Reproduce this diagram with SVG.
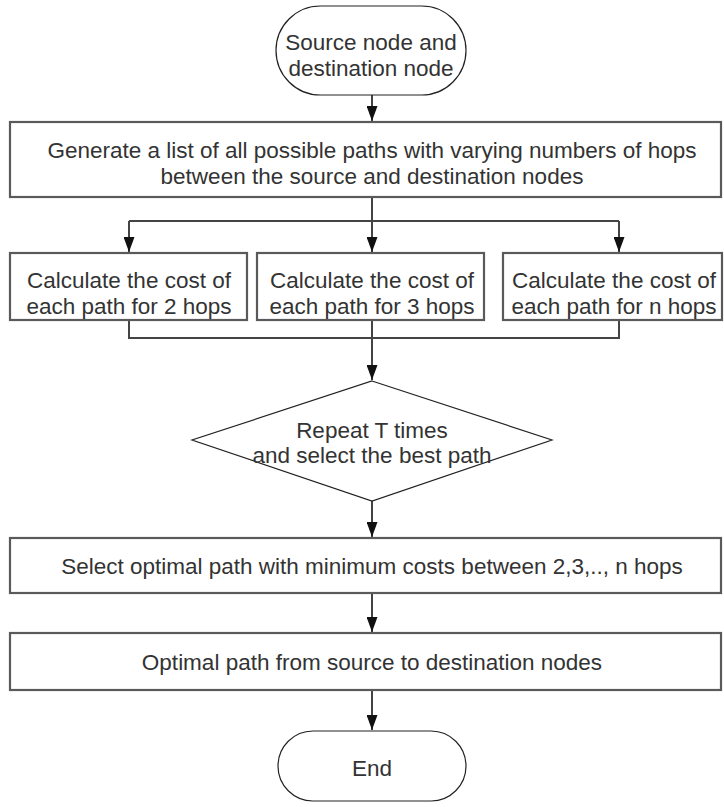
<svg xmlns="http://www.w3.org/2000/svg" width="724" height="807" viewBox="0 0 724 807">
<style>
.box{fill:#fff;stroke:#5a5a5a;stroke-width:2.2}
.thin{fill:#fff;stroke:#222;stroke-width:1.2}
.c{fill:none;stroke:#444;stroke-width:2}
text{font-family:"Liberation Sans",Arial,sans-serif;font-size:22.5px;fill:#333;text-anchor:middle}
</style>
<defs>
<marker id="ah" markerWidth="15" markerHeight="11" refX="15" refY="5.5" orient="auto" markerUnits="userSpaceOnUse" viewBox="0 0 15 11">
<path d="M0,0 L15,5.5 L0,11 Z" fill="#111"/>
</marker>
</defs>
<rect width="724" height="807" fill="#fff"/>
<g id="connectors">
<path class="c" d="M372,95 V121" marker-end="url(#ah)"/>
<path class="c" d="M372,197 V252" marker-end="url(#ah)"/>
<path class="c" d="M129,221 H619"/>
<path class="c" d="M129,221 V252" marker-end="url(#ah)"/>
<path class="c" d="M619,221 V252" marker-end="url(#ah)"/>
<path class="c" d="M129,320 V338 H619 V320"/>
<path class="c" d="M372,320 V380" marker-end="url(#ah)"/>
<path class="c" d="M372,500 V537" marker-end="url(#ah)"/>
<path class="c" d="M372,593 V632" marker-end="url(#ah)"/>
<path class="c" d="M372,690 V730" marker-end="url(#ah)"/>
</g>
<g id="start">
<rect class="thin" x="276" y="6" width="190" height="89" rx="44.5"/>
<text x="371" y="50">Source node and</text>
<text x="371" y="76">destination node</text>
</g>
<g id="generate">
<rect class="box" x="10" y="122" width="711" height="75"/>
<text x="372" y="158">Generate a list of all possible paths with varying numbers of hops</text>
<text x="372" y="184">between the source and destination nodes</text>
</g>
<g id="calc2">
<rect class="box" x="10" y="253" width="237" height="67"/>
<text x="129" y="288">Calculate the cost of</text>
<text x="129" y="314">each path for 2 hops</text>
</g>
<g id="calc3">
<rect class="box" x="257" y="253" width="227" height="67"/>
<text x="372" y="288">Calculate the cost of</text>
<text x="372" y="314">each path for 3 hops</text>
</g>
<g id="calcn">
<rect class="box" x="503" y="253" width="219" height="67"/>
<text x="614" y="288">Calculate the cost of</text>
<text x="614" y="314">each path for n hops</text>
</g>
<g id="repeat">
<polygon class="thin" points="372,381 552,440 372,501 192,440"/>
<text x="372" y="438">Repeat T times</text>
<text x="372" y="463">and select the best path</text>
</g>
<g id="select">
<rect class="box" x="10" y="538" width="711" height="55"/>
<text x="372" y="574">Select optimal path with minimum costs between 2,3,.., n hops</text>
</g>
<g id="optimal">
<rect class="box" x="10" y="633" width="711" height="57"/>
<text x="372" y="670">Optimal path from source to destination nodes</text>
</g>
<g id="end">
<rect class="thin" x="278" y="731" width="188" height="70" rx="35"/>
<text x="372" y="776">End</text>
</g>
</svg>
